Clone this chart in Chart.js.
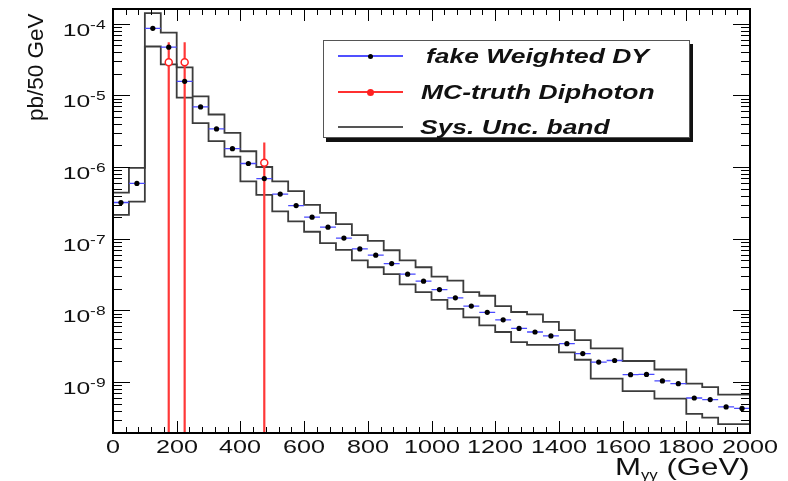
<!DOCTYPE html>
<html>
<head>
<meta charset="utf-8">
<script src="https://cdn.jsdelivr.net/npm/chart.js@4.4.1/dist/chart.umd.min.js"></script>
<style>
  html, body { margin: 0; padding: 0; background: #fff; }
  #wrap { position: relative; width: 788px; height: 481px; overflow: hidden; }
  #c { position: absolute; left: 0; top: 0; }
  .lbl { position: absolute; font-family: "Liberation Sans", Arial, Helvetica, sans-serif; color: #111; white-space: nowrap; line-height: 1; }
  .leg { font-weight: bold; font-style: italic; font-size: 21px; transform-origin: 0 0; transform: scaleX(1.26); }
</style>
</head>
<body>
<div id="wrap"><canvas id="c" width="788" height="481"></canvas></div>
<script>
// 50 GeV bins, centre of each bin (GeV)
var binCenters = [25, 75, 125, 175, 225, 275, 325, 375, 425, 475,
                  525, 575, 625, 675, 725, 775, 825, 875, 925, 975,
                  1025, 1075, 1125, 1175, 1225, 1275, 1325, 1375, 1425, 1475,
                  1525, 1575, 1625, 1675, 1725, 1775, 1825, 1875, 1925, 1975];
var binWidth = 50;

// fake Weighted DY (pb/50 GeV)
var fakeDY = [3.2e-7, 5.9e-7, 8.6e-5, 4.7e-5, 1.57e-5, 6.9e-6, 3.4e-6, 1.8e-6, 1.12e-6, 6.9e-7,
              4.2e-7, 2.9e-7, 2.0e-7, 1.45e-7, 1.02e-7, 7.2e-8, 5.9e-8, 4.5e-8, 3.2e-8, 2.56e-8,
              1.95e-8, 1.5e-8, 1.15e-8, 9.4e-9, 7.4e-9, 5.6e-9, 5.0e-9, 4.4e-9, 3.44e-9, 2.5e-9,
              1.9e-9, 2.0e-9, 1.27e-9, 1.28e-9, 1.04e-9, 9.5e-10, 6.0e-10, 5.7e-10, 4.5e-10, 4.3e-10];

// Sys. Unc. band, upper and lower edges
var bandUp = [4.4e-7, 9.7e-7, 1.4e-4, 7.5e-5, 2.45e-5, 9.7e-6, 5.4e-6, 3.0e-6, 1.66e-6, 1.0e-6,
              6.3e-7, 4.6e-7, 2.96e-7, 2.3e-7, 1.6e-7, 1.12e-7, 9.3e-8, 6.9e-8, 5.0e-8, 4.0e-8,
              2.95e-8, 2.6e-8, 1.8e-8, 1.6e-8, 1.15e-8, 9.5e-9, 8.8e-9, 6.9e-9, 5.3e-9, 3.85e-9,
              2.95e-9, 2.95e-9, 1.97e-9, 1.97e-9, 1.5e-9, 1.5e-9, 9.5e-10, 8.5e-10, 6.7e-10, 6.7e-10];
var bandDown = [2.15e-7, 3.3e-7, 4.8e-5, 2.7e-5, 9.3e-6, 4.1e-6, 2.3e-6, 1.4e-6, 6.3e-7, 4.1e-7,
                2.4e-7, 1.74e-7, 1.25e-7, 8.7e-8, 7.0e-8, 5.0e-8, 4.0e-8, 3.2e-8, 2.3e-8, 1.8e-8,
                1.4e-8, 1.05e-8, 8.0e-9, 6.2e-9, 5.0e-9, 3.6e-9, 3.3e-9, 3.3e-9, 2.6e-9, 2.05e-9,
                1.12e-9, 1.12e-9, 7.5e-10, 7.5e-10, 5.9e-10, 5.9e-10, 3.6e-10, 3.2e-10, 2.6e-10, 2.6e-10];

// MC-truth Diphoton
var diphotonMass = [175, 225, 475];
var diphotonVal = [2.9e-5, 2.9e-5, 1.15e-6];
var diphotonErrUp = [5.5e-5, 5.5e-5, 2.2e-6];

// axis ticks
var xTickLabels = [0, 200, 400, 600, 800, 1000, 1200, 1400, 1600, 1800, 2000];
var yDecades = [-4, -5, -6, -7, -8, -9];
var yMin = 1.95e-10, yMax = 1.6e-4;

// build plotting tables from the arrays
function stepLine(vals) {
  var pts = [];
  for (var i = 0; i < vals.length; i++) {
    pts.push({x: binCenters[i] - binWidth / 2, y: vals[i]});
    pts.push({x: binCenters[i] + binWidth / 2, y: vals[i]});
  }
  return pts;
}
var dyPoints = [], dyXerr = [];
for (var i = 0; i < fakeDY.length; i++) {
  dyPoints.push({x: binCenters[i], y: fakeDY[i]});
  dyXerr.push({x: binCenters[i] - binWidth / 2, y: fakeDY[i]});
  dyXerr.push({x: binCenters[i] + binWidth / 2, y: fakeDY[i]});
  dyXerr.push({x: binCenters[i] + binWidth / 2, y: null});
}
var diPoints = [], diErr = [];
for (var j = 0; j < diphotonMass.length; j++) {
  diPoints.push({x: diphotonMass[j], y: diphotonVal[j]});
  diErr.push({x: diphotonMass[j], y: diphotonErrUp[j]});
  diErr.push({x: diphotonMass[j], y: 1e-12});
  diErr.push({x: diphotonMass[j], y: null});
}

// frame and inside ticks, ROOT style
var frameTicks = {
  id: 'frameTicks',
  afterDraw: function(chart) {
    var ctx = chart.ctx, a = chart.chartArea, xs = chart.scales.x, ys = chart.scales.y;
    ctx.save();
    ctx.strokeStyle = '#000';
    ctx.lineWidth = 1;
    ctx.beginPath();
    for (var v = 0; v <= 2000; v += 40) {
      var px = Math.round(xs.getPixelForValue(v)) + 0.5;
      var len = (v % 200 === 0) ? 12 : 6;
      ctx.moveTo(px, a.bottom); ctx.lineTo(px, a.bottom - len);
      ctx.moveTo(px, a.top); ctx.lineTo(px, a.top + len);
    }
    for (var e = -10; e <= -4; e++) {
      for (var m = 1; m <= 9; m++) {
        var val = m * Math.pow(10, e);
        if (val < yMin || val > yMax) continue;
        var py = Math.round(ys.getPixelForValue(val)) + 0.5;
        var l = (m === 1) ? 17 : 9;
        ctx.moveTo(a.left, py); ctx.lineTo(a.left + l, py);
        ctx.moveTo(a.right, py); ctx.lineTo(a.right - l, py);
      }
    }
    ctx.stroke();
    ctx.lineWidth = 2;
    ctx.strokeRect(a.left, a.top, a.right - a.left, a.bottom - a.top);
    ctx.restore();
  }
};

var chart = new Chart(document.getElementById('c').getContext('2d'), {
  type: 'scatter',
  data: {
    datasets: [
      { label: 'fake Weighted DY', data: dyPoints, pointRadius: 2.6, pointBackgroundColor: '#000', pointBorderColor: '#000', pointBorderWidth: 0, showLine: false },
      { label: 'MC-truth Diphoton', data: diPoints, pointRadius: 3.5, pointBackgroundColor: '#fff', pointBorderColor: '#ff2020', pointBorderWidth: 1.5, showLine: false },
      { label: 'dy xerr', data: dyXerr, showLine: true, pointRadius: 0, borderColor: '#4a4aff', borderWidth: 1.3, spanGaps: false },
      { label: 'diphoton err', data: diErr, showLine: true, pointRadius: 0, borderColor: '#ff3838', borderWidth: 2.2, spanGaps: false },
      { label: 'band up', data: stepLine(bandUp), showLine: true, pointRadius: 0, borderColor: '#3c3c3c', borderWidth: 1.8 },
      { label: 'band down', data: stepLine(bandDown), showLine: true, pointRadius: 0, borderColor: '#3c3c3c', borderWidth: 1.8 }
    ]
  },
  options: {
    responsive: false,
    animation: false,
    events: [],
    layout: { padding: { left: 113, right: 38, top: 9, bottom: 48 } },
    plugins: { legend: { display: false }, tooltip: { enabled: false } },
    scales: {
      x: { type: 'linear', min: 0, max: 2000, display: false },
      y: { type: 'logarithmic', min: yMin, max: yMax, display: false }
    }
  },
  plugins: [frameTicks]
});

// text: tick labels, titles, legend
var wrap = document.getElementById('wrap');
function addDiv(cls, css, html) {
  var d = document.createElement('div');
  d.className = cls;
  d.style.cssText = css;
  d.innerHTML = html;
  wrap.appendChild(d);
  return d;
}
var xs = chart.scales.x, ys = chart.scales.y;
xTickLabels.forEach(function(v) {
  var px = xs.getPixelForValue(v);
  addDiv('lbl', 'left:' + px + 'px;top:438px;font-size:18.5px;transform:translateX(-50%) scaleX(1.36);', String(v));
});
yDecades.forEach(function(e) {
  var py = ys.getPixelForValue(Math.pow(10, e));
  addDiv('lbl', 'right:' + (788 - 106) + 'px;top:' + (py - 2) + 'px;font-size:17px;transform-origin:100% 0;transform:scaleX(1.45);',
    '10<span style="font-size:12px;position:relative;top:-7px;">-' + (-e) + '</span>');
});
addDiv('lbl', 'right:' + (788 - 750) + 'px;top:455px;font-size:24px;transform-origin:100% 0;transform:scaleX(1.3);',
  'M<span style="font-size:13px;position:relative;top:4px;">γγ</span> (GeV)');
addDiv('lbl', 'left:25px;top:121px;font-size:22.5px;transform-origin:0 0;transform:rotate(-90deg);', 'pb/50 GeV');

// legend box
addDiv('', 'position:absolute;left:323px;top:40px;width:365px;height:96px;border:1.5px solid #555;background:#fff;box-shadow:3px 4px 0 #111;', '');
var legRows = [
  {text: 'fake Weighted DY', y: 56, left: 426, line: '#5050ff', dot: '#000', r: 2.5},
  {text: 'MC-truth Diphoton', y: 92, left: 421, line: '#ff3030', dot: '#ff2020', r: 3.5},
  {text: 'Sys. Unc. band', y: 127, left: 420, line: '#555', dot: null, r: 0}
];
legRows.forEach(function(r) {
  addDiv('', 'position:absolute;left:338px;top:' + (r.y - 1) + 'px;width:65px;height:1.5px;background:' + r.line + ';', '');
  if (r.dot) {
    addDiv('', 'position:absolute;left:' + (370 - r.r) + 'px;top:' + (r.y - r.r) + 'px;width:' + (2 * r.r) + 'px;height:' + (2 * r.r) + 'px;border-radius:50%;background:' + r.dot + ';', '');
  }
  addDiv('lbl leg', 'left:' + r.left + 'px;top:' + (r.y - 11) + 'px;', r.text);
});
</script>
</body>
</html>
